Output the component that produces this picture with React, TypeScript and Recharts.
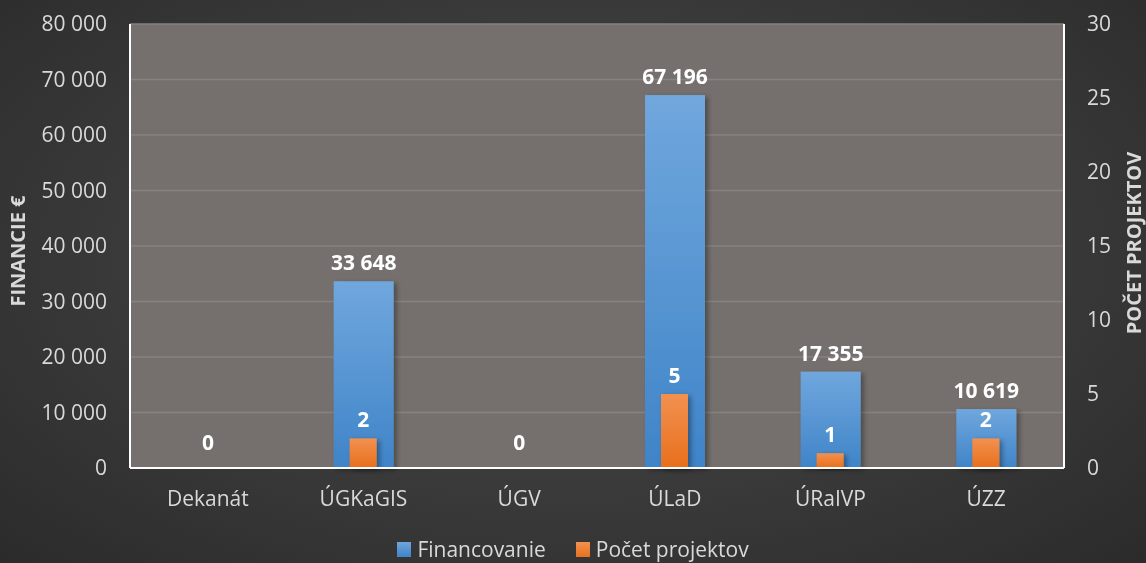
import React from 'react';
import { BarChart, Bar, XAxis, YAxis, CartesianGrid, Legend, LabelList } from 'recharts';

const categories = ['Dekanát', 'ÚGKaGIS', 'ÚGV', 'ÚLaD', 'ÚRaIVP', 'ÚZZ'];
const financovanie = [0, 33648, 0, 67196, 17355, 10619];
const pocetProjektov = [0, 2, 0, 5, 1, 2];
const leftTicks = [0, 10000, 20000, 30000, 40000, 50000, 60000, 70000, 80000];
const rightTicks = [0, 5, 10, 15, 20, 25, 30];

const data = categories.map((name, i) => ({
  name,
  financovanie: financovanie[i],
  pocet: pocetProjektov[i],
}));

const FONT = '"Open Sans", sans-serif';
const TICK_COLOR = '#d9d9d9';
const FS = 21;
const TITLE_FS = 20;

const fmt = (v: number) => String(v).replace(/\B(?=(\d{3})+(?!\d))/g, ' ');

const BarShape = (fillId: string) => (props: any) => {
  const { x, y, width, height } = props;
  if (!height || height <= 0) return <g />;
  return <rect x={x} y={y} width={width} height={height} fill={`url(#${fillId})`} filter="url(#barShadow)" />;
};

const makeLabel = (hideZero: boolean) => (props: any) => {
  const { x, y, width, value } = props;
  if (hideZero && (!value || value === 0)) return null;
  const by = value === 0 ? y - 18 : y - 11;
  return (
    <text x={x + width / 2} y={by} textAnchor="middle" fill="#ffffff" fontFamily={FONT} fontWeight={700} fontSize={FS}>
      {fmt(value)}
    </text>
  );
};

const LegendContent = () => (
  <div style={{ display: 'flex', justifyContent: 'center', alignItems: 'center', height: 30, paddingTop: 2, boxSizing: 'border-box', fontFamily: FONT, fontSize: FS, color: TICK_COLOR }}>
    <span style={{ display: 'inline-block', width: 14, height: 15, background: 'linear-gradient(#6fa6dc,#3f84c8)', marginRight: 6 }} />
    <span style={{ marginRight: 30 }}>Financovanie</span>
    <span style={{ display: 'inline-block', width: 14, height: 15, background: 'linear-gradient(#f29150,#e8711e)', marginRight: 6 }} />
    <span>Počet projektov</span>
  </div>
);

export default function App() {
  return (
    <div
      style={{
        position: 'fixed',
        left: 0,
        top: 0,
        width: 1146,
        height: 563,
        background: 'radial-gradient(ellipse at 50% 45%, #4a4a4a 0%, #3d3d3d 45%, #2b2b2b 100%)',
      }}
    >
      <BarChart width={1146} height={563} data={data} margin={{ top: 24, right: 0, left: 0, bottom: 0 }}>
        <defs>
          <linearGradient id="blueGrad" x1="0" y1="0" x2="0" y2="1">
            <stop offset="0%" stopColor="#70a7dd" />
            <stop offset="100%" stopColor="#3f84c8" />
          </linearGradient>
          <linearGradient id="orangeGrad" x1="0" y1="0" x2="0" y2="1">
            <stop offset="0%" stopColor="#f29150" />
            <stop offset="100%" stopColor="#e86f1c" />
          </linearGradient>
          <filter id="barShadow" x="-20%" y="-20%" width="150%" height="140%">
            <feDropShadow dx="3" dy="2" stdDeviation="2.5" floodColor="#000" floodOpacity="0.35" />
          </filter>
        </defs>
        <CartesianGrid
          xAxisId="b"
          yAxisId="left"
          vertical={false}
          horizontal={true}
          stroke="#878281"
          strokeWidth={1.5}
          fill="#75706e"
          fillOpacity={1}
        />
        <XAxis
          xAxisId="b"
          dataKey="name"
          height={65}
          tickSize={0}
          tickMargin={23}
          tickLine={false}
          axisLine={{ stroke: '#ffffff', strokeWidth: 2 }}
          tick={{ fill: TICK_COLOR, fontSize: FS, fontFamily: FONT }}
          interval={0}
        />
        <XAxis
          xAxisId="o"
          dataKey="name"
          orientation="top"
          height={0}
          tick={false}
          tickLine={false}
          axisLine={{ stroke: '#ffffff', strokeWidth: 2 }}
        />
        <YAxis
          yAxisId="left"
          width={130}
          domain={[0, 80000]}
          ticks={leftTicks}
          tickFormatter={fmt}
          tickSize={0}
          tickMargin={23}
          tickLine={false}
          axisLine={{ stroke: '#ffffff', strokeWidth: 2 }}
          tick={{ fill: TICK_COLOR, fontSize: FS, fontFamily: FONT }}
          interval={0}
          label={{
            content: () => (
              <text
                x={17}
                y={251}
                transform="rotate(-90, 17, 251)"
                textAnchor="middle"
                dominantBaseline="central"
                fill={TICK_COLOR}
                fontFamily={FONT}
                fontWeight={700}
                fontSize={TITLE_FS}
              >
                FINANCIE €
              </text>
            ),
          }}
        />
        <YAxis
          yAxisId="right"
          orientation="right"
          width={82}
          domain={[0, 30]}
          ticks={rightTicks}
          tickSize={0}
          tickMargin={23}
          tickLine={false}
          axisLine={{ stroke: '#ffffff', strokeWidth: 2 }}
          tick={{ fill: TICK_COLOR, fontSize: FS, fontFamily: FONT }}
          interval={0}
          label={{
            content: () => (
              <text
                x={1133}
                y={243}
                transform="rotate(-90, 1133, 243)"
                textAnchor="middle"
                dominantBaseline="central"
                fill={TICK_COLOR}
                fontFamily={FONT}
                fontWeight={700}
                fontSize={TITLE_FS}
              >
                POČET PROJEKTOV
              </text>
            ),
          }}
        />
        <Legend verticalAlign="bottom" height={30} content={<LegendContent />} />
        <Bar
          xAxisId="b"
          yAxisId="left"
          dataKey="financovanie"
          name="Financovanie"
          barSize={60}
          fill="#4f8fd4"
          shape={BarShape('blueGrad')}
          isAnimationActive={false}
        >
          <LabelList dataKey="financovanie" content={makeLabel(false)} />
        </Bar>
        <Bar
          xAxisId="o"
          yAxisId="right"
          dataKey="pocet"
          name="Počet projektov"
          barSize={27}
          fill="#ed7d31"
          shape={BarShape('orangeGrad')}
          isAnimationActive={false}
        >
          <LabelList dataKey="pocet" content={makeLabel(true)} />
        </Bar>
      </BarChart>
    </div>
  );
}
